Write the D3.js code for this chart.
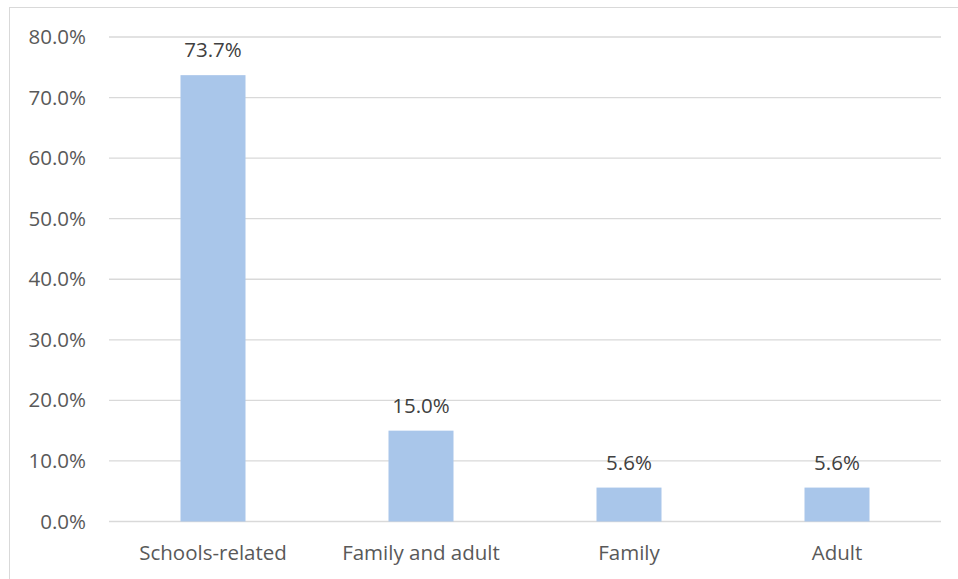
<!DOCTYPE html>
<html>
<head>
<meta charset="utf-8">
<script src="https://cdn.jsdelivr.net/npm/d3@7"></script>
<style>
  body { margin: 0; background: #fff; }
  svg text { font-family: "Open Sans", "Liberation Sans", sans-serif; }
</style>
</head>
<body>
<svg id="chart" width="958" height="579"></svg>
<script>
var categories = ["Schools-related", "Family and adult", "Family", "Adult"];
var values = [73.7, 15.0, 5.6, 5.6];
var yTicks = [0, 10, 20, 30, 40, 50, 60, 70, 80];

var svg = d3.select("#chart");
var plotLeft = 109, plotRight = 941, plotTop = 37, plotBottom = 521.5;
var fontSize = 20.5;

// chart border
svg.append("rect")
  .attr("x", 9.5).attr("y", 7.5)
  .attr("width", 960).attr("height", 580)
  .attr("fill", "none")
  .attr("stroke", "#d9d9d9")
  .attr("stroke-width", 1);

var x = d3.scaleBand().domain(categories).range([plotLeft, plotRight]);
var y = d3.scaleLinear().domain([0, 80]).range([plotBottom, plotTop]);

// gridlines
svg.selectAll("line.grid").data(yTicks).enter()
  .append("line")
  .attr("class", "grid")
  .attr("x1", plotLeft).attr("x2", plotRight)
  .attr("y1", function(d){ return y(d); })
  .attr("y2", function(d){ return y(d); })
  .attr("stroke", "#d9d9d9")
  .attr("stroke-width", 1.3);

// y labels
svg.selectAll("text.ylab").data(yTicks).enter()
  .append("text")
  .attr("class", "ylab")
  .attr("x", 86)
  .attr("y", function(d){ return y(d) + 7; })
  .attr("text-anchor", "end")
  .attr("font-size", fontSize)
  .attr("fill", "#595959")
  .text(function(d){ return d.toFixed(1) + "%"; });

var barW = 65;
svg.selectAll("rect.bar").data(values).enter()
  .append("rect")
  .attr("class", "bar")
  .attr("x", function(d, i){ return x(categories[i]) + x.bandwidth()/2 - barW/2; })
  .attr("y", function(d){ return y(d); })
  .attr("width", barW)
  .attr("height", function(d){ return plotBottom - y(d); })
  .attr("fill", "#a9c6ea");

// value labels
svg.selectAll("text.val").data(values).enter()
  .append("text")
  .attr("class", "val")
  .attr("x", function(d, i){ return x(categories[i]) + x.bandwidth()/2; })
  .attr("y", function(d){ return y(d) - 18; })
  .attr("text-anchor", "middle")
  .attr("font-size", fontSize)
  .attr("fill", "#404040")
  .text(function(d){ return d.toFixed(1) + "%"; });

// category labels
svg.selectAll("text.xlab").data(categories).enter()
  .append("text")
  .attr("class", "xlab")
  .attr("x", function(d){ return x(d) + x.bandwidth()/2; })
  .attr("y", 560)
  .attr("text-anchor", "middle")
  .attr("font-size", fontSize)
  .attr("fill", "#595959")
  .text(function(d){ return d; });
</script>
</body>
</html>
